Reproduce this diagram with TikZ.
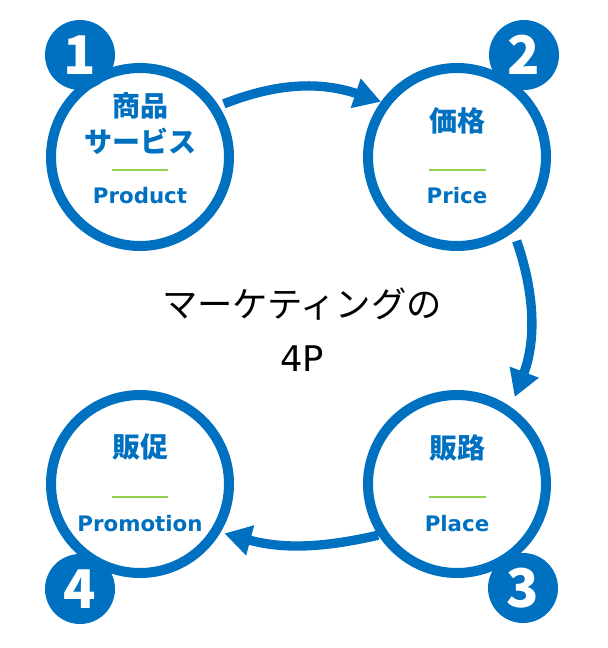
\documentclass[tikz,border=0pt]{standalone}
\usepackage{fontspec}
\setmainfont{Noto Sans CJK JP}
\newfontfamily\latinfont{DejaVu Sans}
\usetikzlibrary{arrows.meta}
\definecolor{mainblue}{HTML}{0070C0}
\definecolor{linegreen}{HTML}{92D050}
\tikzset{
  ring/.style={draw=mainblue, fill=white, line width=7.5pt, circle, minimum size=133.5pt, inner sep=0pt},
  badge/.style={fill=mainblue, circle, minimum size=52.5pt, inner sep=0pt, text=white, font=\fontsize{40}{40}\selectfont\bfseries},
  jplabel/.style={text=mainblue, font=\fontsize{21}{27}\selectfont\bfseries, align=center, inner sep=0pt},
  enlabel/.style={text=mainblue, font=\latinfont\fontsize{16}{16}\selectfont\bfseries, anchor=base, inner sep=0pt},
  sepline/.style={draw=linegreen, line width=2pt},
  flow/.style={draw=mainblue, line width=7pt, -{Triangle[width=22pt,length=20pt]}},
}
\begin{document}
\begin{tikzpicture}[x=0.75pt, y=-0.75pt]
            \useasboundingbox (0,0) rectangle (607,648);
            \node[ring] (prod) at (140,157) {};
            \node[ring] (price) at (457,157) {};
            \node[ring] (place) at (457,484) {};
            \node[ring] (promo) at (140,484) {};
            
            \node[badge] (n1) at (80,55) {1};
            \node[badge] (n2) at (524,55) {2};
            \node[badge] (n3) at (523,588) {3};
            \node[badge] (n4) at (80,589) {4};
            
            \node[jplabel] (prodja) at (140,124) {商品\\サービス};
            \draw[sepline] (112,170) -- (168,170);
            \node[enlabel] (proden) at (140,204) {Product};
            
            \node[jplabel] (priceja) at (457,121) {価格};
            \draw[sepline] (429,170) -- (486,170);
            \node[enlabel] (priceen) at (457,204) {Price};
            
            \node[jplabel] (placeja) at (457,448) {販路};
            \draw[sepline] (429,497) -- (486,497);
            \node[enlabel] (placeen) at (457,531) {Place};
            
            \node[jplabel] (promoja) at (140,447) {販促};
            \draw[sepline] (112,497) -- (168,497);
            \node[enlabel] (promoen) at (140,531) {Promotion};
            
            \node[font=\fontsize{26.5}{40.5}\selectfont, align=center] (title) at (302,330) {マーケティングの\\{\latinfont 4P}};
            
            \draw[flow, shorten <=4pt] (prod.33) to[bend left=20] (price.144);
            \draw[flow, shorten <=7pt, shorten >=8pt] (price.-53) to[bend left=20] (place.55);
            \draw[flow, shorten >=3pt] (place.213) to[bend left=14] (promo.-31);
        \end{tikzpicture}
\end{document}
